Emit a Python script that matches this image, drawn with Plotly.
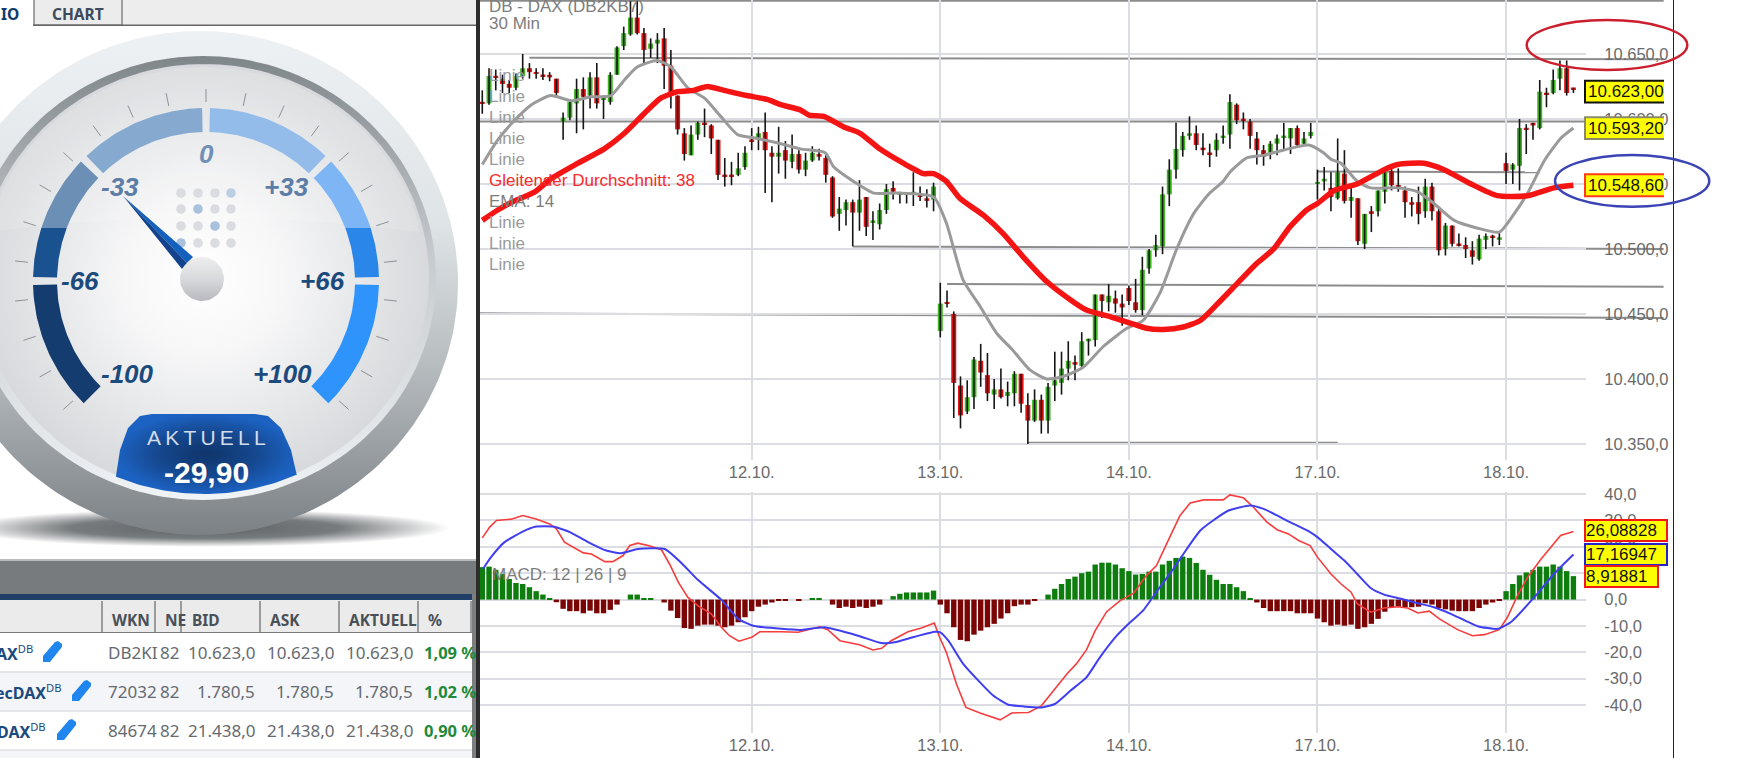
import numpy as np
import plotly.graph_objects as go

W, H = 1739, 758

# ---------------------------------------------------------------- data
date_bars = [40, 68, 96, 124, 152]
date_labels = ["12.10.", "13.10.", "14.10.", "17.10.", "18.10."]
price_ticks = [10350, 10400, 10450, 10500, 10550, 10600, 10650]
price_tick_text = ["10.350,0", "10.400,0", "10.450,0", "10.500,0", "10.550,0", "10.600,0", "10.650,0"]
macd_ticks = [-40, -30, -20, -10, 0, 10, 20, 30, 40]
macd_tick_text = ["-40,0", "-30,0", "-20,0", "-10,0", "0,0", "10,0", "20,0", "30,0", "40,0"]

opens = [10613,10612,10633,10631,10627,10624,10633,10639,10636,10634,
 10634,10631,10598,10601,10612,10623,10618,10632,10615,10613,
 10634,10656,10665,10678,10666,10654,10658,10662,10641,10618,
 10589,10572,10588,10597,10595,10584,10557,10557,10557,10563,
 10584,10584,10590,10574,10571,10576,10567,10573,10561,10568,
 10573,10570,10555,10527,10530,10536,10528,10540,10520,10519,
 10530,10547,10542,10542,10542,10541,10539,10538,10437,10459,
 10450,10395,10375,10386,10414,10403,10388,10392,10387,10389,
 10404,10380,10368,10384,10368,10395,10397,10408,10413,10410,
 10429,10430,10465,10459,10462,10458,10470,10459,10453,10485,
 10499,10502,10542,10561,10576,10587,10589,10578,10574,10576,
 10586,10588,10611,10600,10598,10585,10576,10573,10581,10586,
 10585,10593,10581,10587,10550,10552,10547,10539,10558,10537,
 10539,10504,10529,10529,10544,10560,10549,10545,10536,10536,
 10529,10548,10529,10500,10518,10504,10503,10499,10492,10507,
 10510,10507,10566,10561,10564,10593,10597,10593,10620,10620,
 10631,10639,10624]
highs = [10622,10639,10638,10634,10630,10635,10650,10643,10639,10639,
 10636,10631,10605,10615,10631,10632,10636,10643,10618,10636,
 10656,10671,10691,10691,10670,10662,10666,10670,10653,10618,
 10593,10595,10598,10608,10596,10584,10570,10567,10574,10579,
 10593,10594,10605,10579,10594,10583,10588,10576,10574,10579,
 10577,10572,10556,10540,10538,10538,10553,10540,10529,10535,
 10550,10552,10544,10543,10559,10548,10546,10551,10474,10468,
 10452,10402,10399,10417,10427,10420,10400,10408,10398,10406,
 10404,10389,10392,10388,10397,10421,10421,10429,10418,10436,
 10431,10465,10465,10473,10468,10465,10472,10477,10494,10500,
 10511,10548,10569,10597,10590,10602,10595,10589,10581,10589,
 10595,10619,10612,10605,10600,10590,10580,10583,10588,10597,
 10593,10595,10590,10597,10561,10563,10559,10585,10576,10548,
 10539,10527,10533,10545,10563,10562,10562,10548,10540,10548,
 10554,10551,10532,10520,10518,10512,10509,10506,10511,10512,
 10511,10513,10574,10566,10600,10596,10597,10630,10624,10638,
 10645,10645,10624]
lows = [10604,10611,10622,10620,10620,10622,10631,10631,10631,10630,
 10629,10618,10584,10599,10589,10592,10608,10608,10600,10611,
 10634,10653,10664,10665,10643,10647,10643,10623,10608,10588,
 10568,10572,10584,10586,10573,10553,10548,10549,10556,10561,
 10576,10576,10543,10536,10558,10554,10562,10558,10556,10567,
 10568,10551,10524,10514,10518,10502,10514,10510,10507,10515,
 10527,10538,10535,10535,10533,10537,10532,10529,10432,10455,
 10370,10362,10373,10377,10394,10383,10377,10385,10379,10379,
 10374,10350,10367,10358,10358,10383,10388,10399,10399,10409,
 10418,10425,10447,10452,10451,10441,10457,10451,10449,10481,
 10494,10496,10533,10554,10571,10584,10576,10572,10563,10571,
 10581,10577,10596,10592,10577,10565,10564,10569,10572,10576,
 10573,10579,10580,10585,10538,10545,10529,10538,10535,10524,
 10503,10500,10513,10525,10535,10545,10544,10524,10525,10519,
 10524,10522,10495,10495,10502,10502,10493,10488,10491,10500,
 10502,10503,10550,10550,10545,10573,10584,10592,10609,10619,
 10622,10618,10620]
closes = [10612,10633,10632,10627,10624,10633,10639,10636,10635,10633,
 10632,10620,10601,10613,10623,10617,10632,10612,10616,10634,
 10655,10666,10678,10666,10653,10658,10661,10641,10618,10592,
 10573,10588,10597,10596,10585,10557,10556,10556,10562,10574,
 10583,10589,10576,10571,10574,10568,10573,10561,10568,10574,
 10571,10557,10525,10531,10536,10528,10538,10517,10522,10530,
 10546,10544,10543,10543,10544,10540,10537,10548,10458,10458,
 10397,10372,10386,10415,10405,10389,10392,10386,10390,10404,
 10381,10368,10384,10368,10394,10399,10408,10414,10411,10429,
 10431,10465,10460,10464,10458,10455,10460,10453,10484,10499,
 10503,10542,10561,10577,10587,10589,10580,10576,10573,10584,
 10587,10613,10599,10599,10587,10576,10571,10581,10585,10587,
 10593,10580,10585,10590,10551,10554,10540,10559,10537,10540,
 10506,10527,10527,10545,10559,10549,10548,10536,10534,10527,
 10548,10529,10499,10518,10504,10503,10500,10494,10508,10510,
 10509,10509,10560,10565,10593,10592,10595,10621,10619,10630,
 10639,10620,10623]

ema_x = [0,2.3,4.8,7.3,10.2,13.2,16.1,19.1,21.1,23,26,28,30.5,33,35.4,37.9,40.8,44.3,47.2,50.9,52.2,55.1,58.1,61.5,67,
 68.9,71.4,73.9,76.4,78.8,81.3,83.8,86.3,89.2,92.2,95.7,98.1,100.6,103.1,105.6,108,110,111,113.5,116,118.9,122.7,
 124.9,126,127.5,129.9,131.9,135.9,138.9,141.3,144.3,147.8,151,153.2,155.2,157.7,160.1,162]
ema_y = [10565,10584,10599,10611,10618,10614,10617,10618,10630,10640,10645,10640,10624,10616,10602,10588,10585,10581,10577,10574,10563,10552,10543,10543,10540,
 10520,10476,10456,10435,10422,10407,10400,10402,10409,10425,10439,10445,10466,10500,10527,10543,10552,10559,10570,10572,10576,10580,
 10574,10569,10566,10552,10547,10547,10544,10535,10522,10516,10513,10527,10543,10568,10585,10593]

ma_x = [0,2.3,4.8,7.8,10.2,14.2,18.1,21.1,24,26.5,29,31.4,33.4,35.9,39.3,42.3,44.3,47.2,48.5,50.7,53.6,56.1,59,62.5,65.5,67,
 68.9,70.9,74.4,77.3,80.3,83.8,87.3,89.7,93.2,96.2,98.6,101.1,104.1,106.6,109,112,115,117.5,119.9,122.4,124,126.5,
 129.9,133.9,135.9,139.8,142.8,146.8,150.7,155.2,159.1,162]
ma_y = [10522,10530,10537,10544,10554,10566,10577,10589,10604,10616,10621,10622,10625,10622,10618,10615,10611,10607,10603,10602,10594,10589,10577,10566,10558,10558,
 10552,10539,10526,10512,10494,10475,10461,10453,10448,10443,10439,10438,10440,10445,10457,10473,10489,10500,10517,10530,10535,10545,
 10550,10561,10565,10566,10561,10550,10541,10541,10547,10549]

hist = [12.3,12.5,11.3,9.7,7.8,6.3,5.9,4.7,3.2,1.9,0.6,-1.0,-3.5,-4.4,-4.4,-5.2,-4.2,-5.2,-5.2,-3.9,-1.9,0,
 1.9,1.9,0.6,0.5,0,-1.1,-4.2,-7,-10.8,-11.1,-9.9,-9.5,-9.5,-9.9,-10.5,-9.9,-8.6,-6.7,-4.4,-2.7,-1.9,-1.1,-0.5,-0.4,0,-0.4,0,
 0.6,0.6,0,-1.9,-3.2,-2.7,-3.2,-2.7,-3.2,-2.7,-1.9,0,1.3,2.2,2.7,2.7,2.7,2.7,3.4,
 -1.9,-5.2,-10.5,-15.3,-15.8,-13.3,-11.8,-10.5,-9.2,-7.2,-5.2,-2.5,-1.9,-1.9,-0.4,0,
 1.9,4.1,5.9,7.8,8.7,10,10.6,13.3,14,14,13.3,11.9,10.8,9.5,9.7,10.6,10.6,13.3,14.7,15.8,16.3,15.8,13.9,11.3,9.4,7.5,5.9,5.9,4.7,3.2,0.6,
 -1.1,-3.2,-4.4,-4.4,-4.4,-4.4,-5.2,-5.2,-5.2,-7.2,-8.6,-9.9,-9.5,-9.9,-9.5,-11.1,-10.5,-9.2,-7.3,-4.6,-3.2,-2.7,-2.9,-2.9,-2.7,-1.4,-1.9,-3.2,-3.7,-4.2,-4.4,-4.4,-4.4,-3.2,-1.9,-1.1,-0.5,
 3.2,5.9,9.2,10.3,11.3,12.5,12.5,13.3,12.5,10.8,8.9]

macd_x = [0,1.1,2.1,4.3,6,8,10,11,12.2,13.2,15,16.2,18.2,19.4,20.9,21.9,23.1,24.9,26.6,27.8,29.1,30.5,32,34,35.5,36.7,38.1,40,41.2,44.4,46.9,50.1,51.3,53.1,56,58,59.3,60.7,63.2,65.2,67.1,67.9,68.9,70.4,
 71.8,73.9,76.9,78.6,81.1,83,84.8,86.8,88.2,89.7,91,92.7,94.7,96.7,98.6,100.1,101.6,103.6,105.1,107.1,110,111,113,114.5,116.5,118,119.7,121.2,122.9,
 124,126,127.5,129,129.9,131.9,133.9,135.9,137.4,138.9,140.6,142.1,144.8,147,148.8,151,152.2,153.7,155.2,157.2,160.1,162]
macd_y = [23.4,27.5,30,30.5,31.9,30.6,28.7,26.8,21.8,20.3,17.7,17.3,14.4,14.4,16.7,20.5,21.4,20.3,18.9,13.5,6.6,0.9,-2.3,-5.4,-10.5,-13.7,-15.8,-14.3,-12.2,-12.2,-12.4,-10.3,-11.4,-15.6,-17.1,-19.1,-18.5,-15.6,-12.2,-10.8,-8.9,-14.3,-20,-32,
 -40.9,-43,-45.6,-43,-42.8,-40.3,-34.6,-28.2,-24.4,-19.1,-11.8,-4.6,-0.4,2.4,9.1,12.9,21.1,31.9,36.6,37.8,37.8,39.7,38.6,35,29.4,26.5,24.9,22.4,20.5,
 16.1,9.7,5.9,2.8,-1.6,-4.8,-3.2,-2.7,-3.2,-5.1,-4.4,-7.3,-11.4,-13.7,-13.3,-11.4,-6.7,1.5,8.5,15.4,24.3,25.8]
signal_x = [0.1,1.3,3.3,6,8,10.5,13,15.7,18.4,20.6,23.1,27.1,29.6,32,35.5,38,40.2,44.4,47.4,50.8,55.8,59.3,61.2,64.2,67.2,
 68,69.2,71.4,73.9,75.9,78.1,80.3,83,85,87.3,89.7,91.7,94.2,96.2,98.1,100.6,102.6,104.6,106.6,108.5,110.8,114,116,118,119.9,122.9,
 124,126,128,129.9,131.9,133.9,136.4,138.9,141.3,143.8,147.8,150.7,152.7,156.2,159.1,162]
signal_y = [11.6,16.1,21.8,25.8,27.7,27.7,25.6,21.8,18.6,17.6,19.2,19.2,13.8,7.5,-0.1,-7.3,-9.9,-11.1,-11.5,-10.5,-13.7,-16.5,-16.2,-14.1,-12.2,
 -12.4,-15.6,-24.4,-31.4,-36.5,-39.9,-40.5,-40.9,-39.6,-34.6,-29.5,-21.9,-13.7,-8.6,-4.2,4.7,11.6,19.2,26.2,30,33.8,35.7,34.4,31.9,29.4,25.6,
 23.7,19.2,14.8,9.7,4.4,1.9,0.3,-1.4,-2.9,-5.4,-10.1,-11.1,-8.6,0.9,9.7,17.1]

# horizontal drawn levels: start bar, end bar, value at start, value at end
level_x0 = [-0.34, 7, -0.34, 55, 69, -0.34, 81, 124]
level_x1 = [175.4, 175.4, 175.4, 175.4, 175.4, 175.4, 127, 157]
level_y0 = [10691, 10647, 10598, 10502, 10473, 10450.5, 10351, 10559.5]
level_y1 = [10691, 10646, 10598, 10500, 10471, 10447, 10351, 10559]

price_labels = ["10.623,00", "10.593,20", "10.548,60"]
price_label_y = [10621, 10593, 10549]
price_label_border = ["#111111", "#8a8a6a", "#ff3b1a"]
macd_labels = ["26,08828", "17,16947", "8,91881"]
macd_label_y = [26.09, 17.17, 8.92]
macd_label_border = ["#f01818", "#2424c8", "#f01818"]

legend_text = ["DB - DAX (DB2KB7)", "30 Min", "Linie", "Linie", "Linie", "Linie", "Linie",
               "Gleitender Durchschnitt: 38", "EMA: 14", "Linie", "Linie", "Linie"]
legend_row_y = [6, 23, 75, 97, 117, 138, 159, 180, 201, 222, 243, 264]

table_headers = ["WKN", "NE", "BID", "ASK", "AKTUELL", "%"]
table_names = ["AX", "ecDAX", "DAX"]
table_wkn = ["DB2KI", "72032", "84674"]
table_ne = ["82", "82", "82"]
table_bid = ["10.623,0", "1.780,5", "21.438,0"]
table_ask = ["10.623,0", "1.780,5", "21.438,0"]
table_last = ["10.623,0", "1.780,5", "21.438,0"]
table_pct = ["1,09 %", "1,02 %", "0,90 %"]

gauge_labels = ["0", "-33", "+33", "-66", "+66", "-100", "+100"]
gauge_value = "-29,90"

# ---------------------------------------------------------------- helpers
PX_PER_BAR = 6.735
def bar_px(i):
    return 940.3 + (i - 68) * PX_PER_BAR
def px(x):
    return x / W
def py(y):
    return 1 - y / H

fig = go.Figure()
annotations, shapes = [], []

def text(x, y, s, size=16, color="#555", anchor="left", family="Liberation Sans", yref="paper", **kw):
    annotations.append(dict(x=px(x), y=py(y) if yref == "paper" else y, xref="paper", yref=yref, text=s,
                            showarrow=False, xanchor=anchor, yanchor="middle",
                            font=dict(size=size, color=color, family=family), **kw))

def rect(x0, y0, x1, y1, fill=None, line=None, lw=1, layer="below"):
    shapes.append(dict(type="rect", xref="paper", yref="paper", x0=px(x0), x1=px(x1), y0=py(y0), y1=py(y1),
                       fillcolor=fill, line=dict(color=line, width=lw if line else 0), layer=layer))

def gpoly(xs, ys, fill=None, grad=None):
    kw = dict(fillgradient=grad) if grad else dict(fillcolor=fill)
    fig.add_trace(go.Scatter(x=list(xs) + [xs[0]], y=list(ys) + [ys[0]], mode="lines", fill="toself",
                             line=dict(width=0), hoverinfo="skip", showlegend=False,
                             xaxis="x3", yaxis="y3", **kw))

def ell(cx, cy, rx, ry, n=180):
    t = np.linspace(0, 2 * np.pi, n, endpoint=False)
    return cx + rx * np.cos(t), cy + ry * np.sin(t)

def vgrad(*stops):
    return dict(type="vertical", colorscale=[[a, c] for a, c in stops])
def rgrad(*stops):
    return dict(type="radial", colorscale=[[a, c] for a, c in stops])

# ---------------------------------------------------------------- page chrome (left)
rect(34, 0, 476, 25, fill="#ededed")
rect(0, 0, 33, 25, fill="#ffffff")
rect(34, -2, 122, 25, fill="#ececec", line="#6a6a6a", lw=1.2)
rect(33, 24.5, 476, 26, fill="#666666")
text(-1, 13.5, "<b>IO</b>", 15.5, "#0e3a6e", family="Noto Sans")
text(78, 13.5, "<b>CHART</b>", 15.5, "#3c4a5a", "center", family="Noto Sans")

rect(0, 560, 476, 594, fill="#777b7e")
rect(0, 559, 476, 561, fill="#b9bcbe")
rect(0, 594, 476, 600, fill="#1f3f66")
rect(0, 600, 472, 632, fill="#ebebeb")
rect(0, 632, 472, 633, fill="#7a7a7a")
rect(0, 633, 472, 671, fill="#ffffff")
rect(0, 671, 472, 673, fill="#e3e5e8")
rect(0, 673, 472, 710, fill="#f3f5f8")
rect(0, 710, 472, 712, fill="#e3e5e8")
rect(0, 712, 472, 749, fill="#ffffff")
rect(0, 749, 472, 751, fill="#e3e5e8")
rect(0, 751, 472, 758, fill="#f3f5f8")
for sx in [102, 155, 181, 260, 339, 418, 471]:
    rect(sx - 0.7, 601, sx + 0.7, 632, fill="#77797c")
rect(472, 594, 476, 758, fill="#7c7e80")
rect(476, 0, 480, 758, fill="#2c2c2c", layer="above")

for x, s in zip([110, 163, 190, 268, 347, 426], table_headers):
    text(x, 620, f"<b>{s}</b>", 15.5, "#4a5058", family="Noto Sans")
row_y = [652, 691, 730]
name_end = [35, 63, 48]
pencil_x = [43, 72, 57]
for k in range(3):
    y = row_y[k]
    text(name_end[k], y + 1, f"<b>{table_names[k]}</b><sup>DB</sup>", 16, "#1b4a7d", "right", family="Noto Sans")
    text(106, y, table_wkn[k], 17, "#666a70", family="Noto Sans")
    text(158, y, table_ne[k], 17, "#666a70", family="Noto Sans")
    text(257, y, table_bid[k], 17, "#666a70", "right", family="Noto Sans")
    text(336, y, table_ask[k], 17, "#666a70", "right", family="Noto Sans")
    text(415, y, table_last[k], 17, "#666a70", "right", family="Noto Sans")
    text(422, y, f"<b>{table_pct[k]}</b>", 16.5, "#1f8a3a", family="Noto Sans")
    x0, y0 = pencil_x[k], y - 11
    pts = [(0, 21), (0, 15), (12, 1), (15, 0), (19, 3), (19, 6), (7, 21)]
    path = "M" + " L".join(f"{px(x0 + a):.5f},{py(y0 + b):.5f}" for a, b in pts) + " Z"
    shapes.append(dict(type="path", xref="paper", yref="paper", path=path, fillcolor="#1f86f0",
                       line=dict(width=0), layer="above"))

# ---------------------------------------------------------------- gauge
CX, CY = 206, 281
gpoly(*ell(205, 528, 245, 19), grad=rgrad((0, "#5f6365"), (0.55, "#777b7d"), (1, "#ffffff")))
gpoly(*ell(200, 283, 258, 252), grad=vgrad((0, "#7b8185"), (0.35, "#b9bec1"), (0.62, "#dfe4e7"), (1, "#edf1f3")))
gpoly(*ell(203, 278, 233, 222), grad=vgrad((0, "#f1f4f6"), (0.08, "#e8ecee"), (0.55, "#c6cbcf"), (1, "#7f868a")))
gpoly(*ell(204, 278, 225, 214), grad=rgrad((0, "#ffffff"), (0.35, "#f7f7f8"), (1, "#d7d9dc")))

# glossy upper half of the dial face
t = np.linspace(np.radians(-165), np.radians(-15), 80)
gx = 204 + 222 * np.cos(t)
gy = 278 + 211 * np.sin(t)
lx = np.linspace(gx[-1], gx[0], 30)
ly = 232 - 14 * (1 - ((lx - 204) / 215) ** 2)
gpoly(np.r_[gx, lx], np.r_[gy, ly], fill="rgba(255,255,255,0.14)")

# minor ticks
for a in range(-132, 133, 12):
    r = np.radians(a)
    fig.add_trace(go.Scatter(x=[CX + 179 * np.sin(r), CX + 192 * np.sin(r)],
                             y=[CY - 179 * np.cos(r), CY - 192 * np.cos(r)], mode="lines",
                             line=dict(color="#8e9194", width=1), hoverinfo="skip", showlegend=False,
                             xaxis="x3", yaxis="y3"))

def arc(a0, a1, color, b0=None, b1=None):
    t_o = np.radians(np.linspace(a0, a1, 40))
    t_i = np.radians(np.linspace(a0 if b0 is None else b0, a1 if b1 is None else b1, 40))
    xs = np.r_[CX + 173 * np.sin(t_o), CX + 149 * np.sin(t_i[::-1])]
    ys = np.r_[CY - 173 * np.cos(t_o), CY - 149 * np.cos(t_i[::-1])]
    gpoly(xs, ys, fill=color)

arc(-135, -91.3, "#143c6e")
arc(-88.7, -72.2, "#1a5290", b1=-69.2)
arc(-72.2, -46.3, "#6b8fb5", b0=-69.2)
arc(-43.7, -1.3, "#86a9d0")
arc(1.3, 43.7, "#93bceb")
arc(46.3, 72.2, "#7db5f5", b1=69.2)
arc(72.2, 88.7, "#2a86e8", b0=69.2)
arc(91.3, 135, "#2e93fb")

# dot matrix
dot_col = [["#dadcdf", "#dadcdf", "#dadcdf", "#bcd0e4"],
           ["#dadcdf", "#a9c2dc", "#dadcdf", "#dadcdf"],
           ["#dadcdf", "#dadcdf", "#a9c2dc", "#dadcdf"],
           ["#a9c2dc", "#dadcdf", "#dadcdf", "#dadcdf"]]
for r_i, yy in enumerate([193, 209, 226, 243]):
    for c_i, xx in enumerate([181, 198, 215, 231]):
        gpoly(*ell(xx, yy, 4.8, 4.8, 24), fill=dot_col[r_i][c_i])

# needle and pivot
gpoly([123, 193, 187], [196, 257, 263], fill="#1460bf")
gpoly([123, 187, 182], [196, 263, 269], fill="#12438c")
gpoly(*ell(202, 279, 22, 22, 60), grad=vgrad((0, "#b7b9be"), (0.5, "#d8d9dc"), (1, "#eeeeef")))

# value plate
tx = np.linspace(297, 116, 50)
by = 278 + 216 * np.sqrt(1 - ((tx - 204) / 224) ** 2)
plate_x = np.r_[[116, 120, 128, 140, 152, 255, 268, 281, 291, 297], tx]
plate_y = np.r_[[476, 450, 428, 416, 414, 414, 416, 428, 450, 476], by]
gpoly(plate_x, plate_y, grad=rgrad((0, "#0f346a"), (0.55, "#15488f"), (1, "#1c62c2")))

gcol = ["#6f8fb5", "#5b7da6", "#5b7da6", "#1b4a7d", "#1b4a7d", "#1b4a7d", "#1b4a7d"]
gpos = [(206, 154), (120, 187), (286, 187), (80, 281), (322, 281), (127, 374), (282, 374)]
for s, c, (gxx, gyy) in zip(gauge_labels, gcol, gpos):
    text(gxx, gyy, f"<b><i>{s}</i></b>", 26, c, "center")
text(206, 437, "\u2009".join("AKTUELL"), 21, "#d3dce8", "center")
text(206, 472, f"<b>{gauge_value}</b>", 30, "#ffffff", "center")

# ---------------------------------------------------------------- price panel
bars = np.arange(len(opens))
o, h, l, c = map(np.array, (opens, highs, lows, closes))
wx, wy = [], []
for i in bars:
    wx += [int(i), int(i), None]
    wy += [int(l[i]), int(h[i]), None]
for a0, a1, v0, v1 in zip(level_x0, level_x1, level_y0, level_y1):
    shapes.append(dict(type="line", xref="paper", yref="y", x0=px(bar_px(a0)), x1=px(bar_px(a1)), y0=v0, y1=v1,
                       line=dict(color="#8c8c8c", width=2), layer="between"))
fig.add_trace(go.Scatter(x=wx, y=wy, mode="lines", line=dict(color="#151515", width=1.6),
                         hoverinfo="skip", showlegend=False))
fig.add_trace(go.Bar(x=bars, y=np.maximum(np.abs(c - o), 1.2), base=np.minimum(o, c), width=0.74,
                     marker=dict(color=["#3cb521" if cc >= oo else "#e01212" for oo, cc in zip(o, c)], line=dict(width=0)),
                     hoverinfo="skip", showlegend=False))
fig.add_trace(go.Scatter(x=ema_x, y=ema_y, mode="lines", line=dict(color="#9a9a9a", width=3, shape="spline", smoothing=0.6),
                         hoverinfo="skip", showlegend=False))
fig.add_trace(go.Scatter(x=ma_x, y=ma_y, mode="lines", line=dict(color="#f51414", width=5.5, shape="spline", smoothing=0.6),
                         hoverinfo="skip", showlegend=False))

# ---------------------------------------------------------------- MACD panel
fig.add_trace(go.Bar(x=bars, y=hist, width=0.8, xaxis="x2", yaxis="y2",
                     marker=dict(color=["#0d7d0d" if v >= 0 else "#7b0404" for v in hist], line=dict(width=0)),
                     hoverinfo="skip", showlegend=False))
fig.add_trace(go.Scatter(x=macd_x, y=macd_y, mode="lines", xaxis="x2", yaxis="y2",
                         line=dict(color="#f53d3d", width=1.6), hoverinfo="skip", showlegend=False))
fig.add_trace(go.Scatter(x=signal_x, y=signal_y, mode="lines", xaxis="x2", yaxis="y2",
                         line=dict(color="#3f3ff0", width=2, shape="spline", smoothing=0.5), hoverinfo="skip", showlegend=False))

# legends inside panels
for s, y in zip(legend_text, legend_row_y):
    col = "#f52a2a" if s.startswith("Gleitender") else ("#9a9a9a" if s == "Linie" else "#7d7d7d")
    text(487, y, s, 17, col)
text(490, 574, "MACD: 12 | 26 | 9", 17, "#7d7d7d")

# value tags: yellow plate open at the right edge (the page cuts them off), text on top
for s, v, b in zip(price_labels, price_label_y, price_label_border):
    xl, xr = px(1585), px(1664)
    d = 8.4
    path = f"M{xr:.5f},{v + d} L{xl:.5f},{v + d} L{xl:.5f},{v - d} L{xr:.5f},{v - d}"
    shapes.append(dict(type="path", xref="paper", yref="y", path=path, fillcolor="#ffff00",
                       line=dict(color=b, width=2), layer="above"))
    annotations.append(dict(x=px(1586), y=v, xref="paper", yref="y", text=s, showarrow=False, xanchor="left",
                            yanchor="middle", font=dict(size=17, color="#111", family="Liberation Sans")))
for s, v, b, wd in zip(macd_labels, macd_label_y, macd_label_border, [80, 80, 71]):
    annotations.append(dict(x=px(1584), y=v, xref="paper", yref="y2", text=s, showarrow=False, xanchor="left",
                            yanchor="middle", width=wd, height=19, align="left", bgcolor="#ffff00",
                            bordercolor=b, borderwidth=2, borderpad=0,
                            font=dict(size=17, color="#111", family="Liberation Sans")))

rect(1673, 0, 1674, 758, fill="#222222", layer="above")
for (x0, y0, x1, y1, col) in [(1526.7, 20, 1687.3, 70, "#cc1f2d"), (1555, 155, 1709.3, 206.7, "#3c44b4")]:
    shapes.append(dict(type="circle", xref="paper", yref="paper", x0=px(x0), x1=px(x1), y0=py(y0), y1=py(y1),
                       line=dict(color=col, width=2.5), layer="above"))

GRID = "#dcdde2"
tickfont = dict(size=16.5, color="#6a6a6a", family="Liberation Sans")
x_range = [-0.34, 163.87]
x_common = dict(range=x_range, tickmode="array", tickvals=date_bars, ticktext=date_labels, showgrid=True,
                gridcolor=GRID, gridwidth=1.6, zeroline=False, showline=False, ticks="", tickfont=tickfont, fixedrange=True)
y_common = dict(side="right", showgrid=True, gridcolor=GRID, gridwidth=1.6, zeroline=False, showline=False,
                ticks="outside", ticklen=14, tickcolor="rgba(0,0,0,0)", tickfont=tickfont, tickmode="array", fixedrange=True)

fig.update_layout(
    width=W, height=H, autosize=False, margin=dict(l=0, r=0, t=0, b=0, autoexpand=False),
    paper_bgcolor="#ffffff", plot_bgcolor="rgba(0,0,0,0)", barmode="overlay", showlegend=False,
    xaxis=dict(domain=[px(480), px(1586)], anchor="y", **x_common),
    yaxis=dict(domain=[py(460), 1], anchor="x", range=[10337.7, 10691.5], tickvals=price_ticks,
               ticktext=price_tick_text, **y_common),
    xaxis2=dict(domain=[px(480), px(1586)], anchor="y2", **x_common),
    yaxis2=dict(domain=[py(733), py(492)], anchor="x2", range=[-50.6, 40.8], tickvals=macd_ticks,
                ticktext=macd_tick_text, **y_common),
    xaxis3=dict(domain=[0, px(476)], anchor="y3", range=[0, 476], visible=False, fixedrange=True),
    yaxis3=dict(domain=[0, 1], anchor="x3", range=[758, 0], visible=False, fixedrange=True),
    shapes=shapes, annotations=annotations,
)
fig.write_html("out.html", config=dict(displayModeBar=False),
               post_script="document.documentElement.style.margin='0';document.body.style.margin='0';document.body.style.padding='0';document.body.style.overflow='hidden';var g=document.querySelector('.plotly-graph-div');g.style.position='fixed';g.style.left='0';g.style.top='0';")
